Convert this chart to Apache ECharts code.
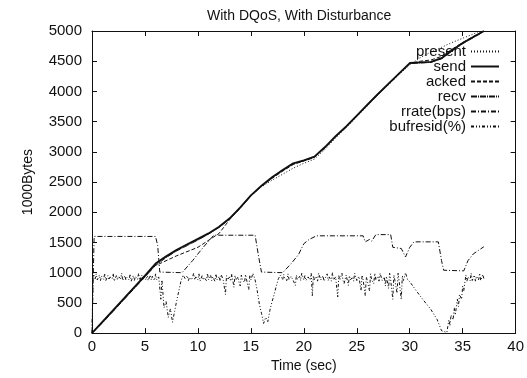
<!DOCTYPE html>
<html>
<head>
<meta charset="utf-8">
<script src="https://cdn.jsdelivr.net/npm/echarts@6/dist/echarts.min.js"></script>
<style>
  html, body { margin: 0; padding: 0; background: #fff; }
  #chart { width: 527px; height: 378px; }
</style>
</head>
<body>
<div id="chart"></div>
<script>
const titleText = "With DQoS, With Disturbance";
const xTicks = [0, 5, 10, 15, 20, 25, 30, 35, 40];
const yTicks = [0, 500, 1000, 1500, 2000, 2500, 3000, 3500, 4000, 4500, 5000];

// [time (sec), 1000Bytes]
const sendData = [[0,0],[1,190],[2,380],[3,570],[4,760],[5,950],[6,1150],[7,1270],[8,1380],[9,1470],[10,1560],[11,1650],[12,1760],[13,1900],[14,2080],[15,2280],[16,2440],[17,2580],[18,2700],[19,2810],[20,2860],[21,2920],[22,3080],[23,3260],[24,3420],[25,3600],[26,3780],[27,3960],[28,4130],[29,4300],[30,4470],[31,4480],[32,4490],[33,4550],[34,4680],[35,4800],[36,4900],[37,5000]];
const presentData = [[0,0],[1,190],[2,380],[3,570],[4,760],[5,950],[6,1140],[7,1260],[8,1370],[9,1460],[10,1550],[11,1640],[12,1750],[13,1890],[14,2070],[15,2270],[16,2420],[17,2530],[18,2630],[19,2730],[20,2810],[21,2880],[22,3040],[23,3230],[24,3400],[25,3580],[26,3760],[27,3940],[28,4110],[29,4280],[30,4440],[31,4560],[32,4650],[33,4730],[34,4810],[35,4880],[36,4950],[36.6,5000]];
const ackedData = [[0,0],[1,180],[2,370],[3,560],[4,750],[5,940],[6,1120],[6.4,1150],[8,1280],[10,1420],[12,1650],[13,1880],[14,2070],[15,2270],[16,2430],[17,2560],[18,2680],[19,2790],[20,2850],[21,2910],[22,3070],[23,3250],[24,3410],[25,3590],[26,3770],[27,3950],[28,4120],[29,4290],[30,4460],[31,4500],[32,4520],[33,4580],[34,4700],[35,4810],[36,4910],[37,5000]];
const recvData = [[0,0],[1,170],[2,360],[3,550],[4,740],[5,930],[6,1120],[7,1250],[8,1360],[9,1450],[10,1540],[11,1640],[12,1750],[13,1890],[14,2070],[15,2270],[16,2430],[17,2570],[18,2690],[19,2800],[20,2850],[21,2910],[22,3070],[23,3250],[24,3410],[25,3590],[26,3770],[27,3950],[28,4120],[29,4290],[30,4460],[31,4470],[32,4480],[33,4540],[34,4670],[35,4790],[36,4890],[37,4990]];
const rrateData = [[0,0],[0.2,1600],[6.0,1600],[6.2,1450],[6.4,1010],[8.5,1000],[9.5,1200],[10.5,1420],[11.5,1620],[15.4,1620],[15.7,1300],[16.0,1010],[18.0,1000],[18.8,1150],[19.5,1300],[20.0,1480],[20.5,1550],[21.2,1610],[25.6,1610],[25.8,1510],[26.2,1550],[26.4,1520],[26.8,1630],[28.2,1630],[28.4,1420],[29.2,1400],[29.6,1260],[30.0,1420],[30.4,1510],[32.7,1510],[33.0,1200],[33.2,1040],[35.1,1030],[35.5,1200],[36.0,1310],[36.5,1370],[37.0,1430]];
const bufresidData = [[0,0],[0.1,1000],[0.3,900],[0.4,980],[0.5,880],[0.7,960],[0.8,870],[0.9,940],[1.1,890],[1.2,990],[1.3,870],[1.5,950],[1.6,880],[1.7,930],[1.9,900],[2.0,990],[2.1,860],[2.3,950],[2.4,880],[2.5,940],[2.7,900],[2.8,990],[2.9,870],[3.1,950],[3.2,880],[3.3,920],[3.5,880],[3.6,980],[3.7,860],[3.9,950],[4.0,870],[4.1,940],[4.3,890],[4.4,990],[4.5,870],[4.7,960],[4.8,880],[4.9,930],[5.1,880],[5.2,990],[5.3,870],[5.5,960],[5.6,880],[5.7,940],[5.9,870],[6.0,980],[6.1,880],[6.3,930],[6.5,560],[6.6,880],[6.8,420],[7.0,520],[7.2,260],[7.4,400],[7.6,180],[7.8,360],[8.0,540],[8.2,700],[8.4,860],[8.6,960],[8.8,900],[9.0,950],[9.1,870],[9.2,920],[9.4,880],[9.6,990],[9.7,880],[9.8,930],[10.0,880],[10.1,980],[10.2,860],[10.4,950],[10.5,880],[10.6,920],[10.8,870],[10.9,990],[11.0,880],[11.2,960],[11.3,870],[11.4,930],[11.6,860],[11.7,980],[11.8,880],[12.0,940],[12.1,860],[12.2,970],[12.4,870],[12.6,640],[12.7,950],[12.8,880],[13.0,930],[13.1,860],[13.2,980],[13.4,760],[13.5,950],[13.6,880],[13.8,930],[13.9,820],[14.0,780],[14.1,960],[14.2,880],[14.4,840],[14.5,970],[14.6,880],[14.8,720],[14.9,960],[15.0,880],[15.2,990],[15.4,880],[15.6,700],[15.8,480],[16.0,330],[16.2,160],[16.4,260],[16.6,190],[16.8,380],[17.0,520],[17.2,640],[17.4,780],[17.6,900],[17.8,960],[18.0,880],[18.1,970],[18.2,900],[18.4,870],[18.5,980],[18.6,890],[18.8,940],[19.0,870],[19.2,790],[19.3,960],[19.4,890],[19.6,940],[19.7,870],[19.8,990],[20.0,880],[20.1,950],[20.2,870],[20.4,930],[20.6,880],[20.7,990],[20.8,620],[20.9,950],[21.0,880],[21.2,940],[21.3,860],[21.4,990],[21.6,880],[21.8,950],[21.9,860],[22.0,830],[22.2,980],[22.3,870],[22.4,930],[22.6,860],[22.7,1000],[22.8,880],[23.0,930],[23.2,600],[23.3,950],[23.4,880],[23.6,990],[23.7,870],[23.8,820],[24.0,960],[24.2,790],[24.3,950],[24.4,880],[24.6,930],[24.7,860],[24.8,990],[25.0,870],[25.2,940],[25.4,700],[25.5,960],[25.6,880],[25.8,620],[25.9,930],[26.0,860],[26.2,700],[26.3,980],[26.4,880],[26.6,820],[26.7,990],[26.8,880],[27.0,940],[27.1,860],[27.2,990],[27.4,870],[27.6,930],[27.7,780],[27.8,940],[28.0,740],[28.1,990],[28.2,880],[28.4,560],[28.5,960],[28.6,870],[28.8,660],[28.9,990],[29.0,860],[29.2,560],[29.3,950],[29.4,870],[29.6,1000],[29.8,880],[30.0,850],[31.0,610],[32.0,390],[32.6,220],[33.0,40],[33.5,10],[33.7,220],[33.8,120],[33.9,300],[34.1,220],[34.2,420],[34.3,300],[34.5,560],[34.6,440],[34.7,640],[34.9,560],[35.0,780],[35.1,700],[35.3,960],[35.4,860],[35.5,930],[35.7,870],[35.8,990],[35.9,870],[36.1,960],[36.2,860],[36.3,940],[36.5,880],[36.6,990],[36.7,870],[36.9,970],[37.0,900]];

const ink = "#111";
const font = "Liberation Sans";

const chart = echarts.init(document.getElementById("chart"), null, { renderer: "canvas" });

function line(name, data, width, type) {
  return {
    name: name,
    type: "line",
    data: data,
    symbol: "none",
    showSymbol: false,
    animation: false,
    lineStyle: { color: ink, width: width, type: type },
    itemStyle: { color: ink },
  };
}

const axisCommon = {
  axisLine: { show: true, onZero: false, lineStyle: { color: ink, width: 1 } },
  axisTick: { show: true, inside: true, length: 5, lineStyle: { color: ink } },
  splitLine: { show: false },
};

const option = {
  backgroundColor: "#fff",
  animation: false,
  textStyle: { fontFamily: font },
  title: {
    text: titleText,
    left: 202,
    top: 4,
    textStyle: { fontFamily: font, fontSize: 14, fontWeight: "normal", color: ink },
  },
  grid: { left: 92, right: 10, top: 31, bottom: 36 },
  legend: {
    orient: "vertical",
    right: 22,
    top: 39,
    align: "right",
    itemWidth: 28,
    itemHeight: 10,
    itemGap: 0,
    itemStyle: { opacity: 0 },
    textStyle: { fontFamily: font, fontSize: 15, color: ink, lineHeight: 15 },
    data: ["present", "send", "acked", "recv", "rrate(bps)", "bufresid(%)"],
  },
  xAxis: [
    Object.assign({}, axisCommon, {
      type: "value",
      min: xTicks[0],
      max: xTicks[xTicks.length - 1],
      interval: 5,
      name: "Time (sec)",
      nameLocation: "middle",
      nameGap: 20,
      nameTextStyle: { fontFamily: font, fontSize: 14, color: ink },
      axisLabel: { fontFamily: font, fontSize: 15, color: ink, margin: 6 },
    }),
    Object.assign({}, axisCommon, {
      type: "value",
      position: "top",
      min: xTicks[0],
      max: xTicks[xTicks.length - 1],
      interval: 5,
      axisLabel: { show: false },
    }),
  ],
  yAxis: [
    Object.assign({}, axisCommon, {
      type: "value",
      min: yTicks[0],
      max: yTicks[yTicks.length - 1],
      interval: 500,
      name: "1000Bytes",
      nameLocation: "middle",
      nameGap: 57,
      nameRotate: 90,
      nameTextStyle: { fontFamily: font, fontSize: 14, color: ink },
      axisLabel: { fontFamily: font, fontSize: 15, color: ink, margin: 10, formatter: (v) => String(v) },
    }),
    Object.assign({}, axisCommon, {
      type: "value",
      position: "right",
      min: yTicks[0],
      max: yTicks[yTicks.length - 1],
      interval: 500,
      axisLabel: { show: false },
    }),
  ],
  series: [
    line("present", presentData, 1, [1, 2]),
    line("send", sendData, 1.8, "solid"),
    line("acked", ackedData, 1, [4, 2]),
    line("recv", recvData, 1, [6, 1, 1, 1]),
    line("rrate(bps)", rrateData, 1, [5, 2, 1, 2]),
    line("bufresid(%)", bufresidData, 1, [3, 2, 1, 2, 1, 2]),
  ],
};

chart.setOption(option);
</script>
</body>
</html>
